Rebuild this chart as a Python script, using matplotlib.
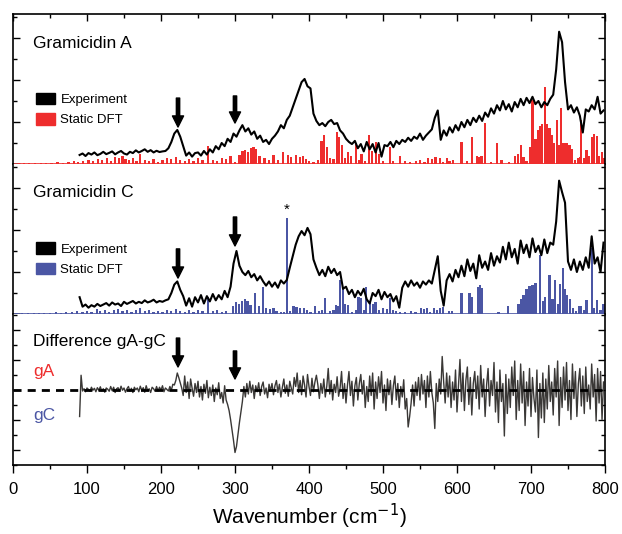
import numpy as np
import matplotlib
matplotlib.use("Agg")
import matplotlib.pyplot as plt
from matplotlib.patches import Patch
from matplotlib.ticker import MultipleLocator

plt.rcParams['font.family'] = ['Liberation Sans', 'DejaVu Sans']

# ---------------- data ----------------
wavenumber = np.arange(90, 800, 4)       # experimental sampling grid (cm^-1)
wavenumber_diff = np.arange(90, 800, 2)  # difference spectrum grid (cm^-1)

exp_gA = [
    0.43, 0.50, 0.38, 0.52, 0.45, 0.55, 0.42, 0.48, 0.58, 0.47,
    0.53, 0.60, 0.46, 0.55, 0.62, 0.50, 0.45, 0.58, 0.52, 0.65,
    0.55, 0.62, 0.70, 0.58, 0.66, 0.55, 0.63, 0.57, 0.60, 0.62,
    0.75, 1.05, 1.45, 1.62, 1.30, 0.85, 0.40, 0.55, 0.35, 0.52,
    0.55, 0.40, 0.62, 0.45, 0.70, 0.55, 0.85, 0.70, 1.00, 0.85,
    1.20, 1.05, 1.45, 1.30, 1.60, 1.85, 1.55, 1.70, 1.40, 1.55,
    1.20, 1.35, 1.05, 1.15, 0.95, 1.20, 1.35, 1.55, 1.85, 1.70,
    2.10, 2.30, 2.70, 3.10, 3.50, 3.90, 4.05, 3.70, 3.60, 2.40,
    2.05, 1.85, 1.95, 1.80, 2.00, 2.10, 1.90, 1.95, 1.60, 1.45,
    1.20, 1.05, 0.95, 1.10, 0.75, 0.95, 0.60, 1.05, 0.70, 0.95,
    0.55, 1.00, 0.35, 0.90, 0.85, 1.05, 0.80, 1.10, 0.95, 1.15,
    1.05, 1.25, 1.10, 1.30, 1.20, 1.45, 1.15, 1.35, 1.50, 1.65,
    2.20, 2.55, 1.15, 1.60, 1.35, 1.75, 1.50, 1.85, 1.60, 2.00,
    1.75, 2.10, 1.85, 2.20, 2.00, 2.30, 2.05, 2.45, 2.25, 2.65,
    2.40, 2.80, 2.55, 3.00, 2.60, 2.85, 2.50, 2.95, 2.70, 3.10,
    2.80, 3.15, 2.90, 3.20, 2.85, 3.00, 2.70, 2.95, 2.80, 3.10,
    3.30, 4.50, 6.30, 5.80, 3.90, 2.60, 2.80, 2.45, 2.70, 2.30,
    1.50, 2.60, 2.50, 2.80, 2.60, 3.20, 2.40, 2.55,
]

exp_gC = [
    0.80, 0.35, 0.45, 0.30, 0.42, 0.35, 0.48, 0.38, 0.45, 0.52,
    0.40, 0.55, 0.45, 0.50, 0.38, 0.58, 0.48, 0.55, 0.62, 0.50,
    0.58, 0.52, 0.65, 0.55, 0.60, 0.68, 0.55, 0.62, 0.58, 0.65,
    0.70, 1.00, 1.40, 1.55, 1.15, 0.85, 0.40, 0.75, 0.35, 0.80,
    0.55, 0.90, 0.50, 0.85, 0.60, 0.95, 0.65, 0.90, 0.70, 1.10,
    0.80, 1.30, 2.40, 3.00, 2.30, 2.00, 1.85, 2.05, 1.75, 1.90,
    1.60, 1.80, 1.55, 1.35, 1.55, 1.30, 1.50, 1.25, 1.60, 1.45,
    1.62, 2.20, 2.75, 3.30, 3.70, 3.95, 3.75, 4.10, 3.80, 2.60,
    2.20, 1.85, 2.10, 1.80, 2.25, 1.95, 2.15, 1.85, 2.00, 1.20,
    1.30, 0.95, 1.15, 0.80, 1.10, 0.90, 1.20, 0.70, 0.50, 1.00,
    0.85, 1.15, 0.70, 1.05, 0.80, 0.95, 0.60, 0.85, 0.30, 1.25,
    1.55, 1.30, 1.60, 1.35, 1.50, 1.25, 1.55, 1.40, 1.60, 1.45,
    2.10, 2.75, 1.10, 0.40, 1.60, 1.90, 1.55, 2.10, 1.75, 2.30,
    1.80, 2.60, 2.05, 2.40, 1.70, 2.80, 2.20, 2.50, 2.10, 2.90,
    2.30, 2.75, 2.45, 3.20, 2.60, 3.40, 2.70, 3.10, 2.40, 3.50,
    2.90, 3.30, 2.70, 3.60, 2.95, 3.25, 2.80, 3.55, 2.90, 3.40,
    3.30, 4.40, 6.35, 5.80, 5.30, 2.50, 2.10, 2.60, 2.00, 2.50,
    2.10, 2.70, 2.20, 3.70, 2.40, 2.70, 2.00, 3.40,
]

diff_gA_gC = [
    -1.80, 0.95, -0.10, 0.05, -0.15, 0.10, 0.00, -0.12, 0.15, -0.05,
    0.08, -0.15, 0.12, -0.05, 0.18, -0.10, 0.05, -0.18, 0.10, 0.02,
    -0.12, 0.20, -0.08, 0.15, -0.20, 0.05, 0.12, -0.10, 0.22, -0.05,
    0.10, -0.18, 0.05, 0.20, -0.12, 0.08, -0.20, 0.15, -0.02, 0.10,
    -0.15, 0.22, -0.05, 0.12, -0.18, 0.25, -0.08, 0.05, -0.20, 0.15,
    0.05, -0.12, 0.20, -0.10, 0.15, -0.05, 0.25, -0.15, 0.10, 0.00,
    -0.10, 0.20, -0.05, 0.35, 0.30, 0.60, 1.10, 0.80, 0.45, 0.10,
    -0.40, 0.90, -0.20, 0.50, -0.60, 0.70, 0.10, -0.45, 0.40, -0.20,
    0.55, -0.50, 0.20, -0.70, 0.35, -0.25, 0.60, -0.55, 0.15, -0.40,
    0.30, -0.80, 0.10, -0.35, 0.45, -0.60, -0.20, -0.90, 0.25, -0.70,
    -1.00, -1.40, -2.00, -2.70, -3.40, -4.20, -3.80, -3.00, -2.20, -1.50,
    -0.80, 0.20, -0.50, 0.40, -0.30, 0.55, -0.20, 0.30, -0.60, 0.25,
    -0.15, 0.45, -0.40, 0.20, 0.50, -0.30, 0.10, -0.55, 0.35, -0.10,
    0.40, -0.35, 0.25, 0.60, -0.20, 0.35, -0.50, 0.15, 0.70, -0.25,
    0.30, -0.45, 0.55, 0.10, -0.30, 0.80, 0.20, 1.10, -0.20, 0.60,
    -0.35, 0.90, 0.30, -0.50, 1.00, 0.20, -0.40, 0.75, -0.15, 0.50,
    0.95, 0.30, -0.60, 0.40, -0.25, 0.70, -0.50, 0.20, 1.40, -0.30,
    0.60, -0.70, 0.35, -0.20, 0.85, -0.45, 0.10, 1.20, -0.60, 0.40,
    -0.90, 0.30, 1.20, -0.40, 0.55, -1.10, 0.25, 0.80, -0.70, 0.40,
    1.00, -0.30, 0.60, -1.20, 0.20, -0.80, 0.90, -0.40, 1.10, -1.30,
    0.50, -0.60, 0.85, -0.20, 1.20, -0.90, 0.30, -1.40, 0.70, -0.35,
    0.60, -1.00, 0.25, 0.90, -0.70, 0.40, -1.20, 0.20, -0.50, 0.65,
    -1.30, -0.60, -2.50, -1.80, -0.90, 0.30, -1.10, 0.50, -0.40, 0.80,
    -0.70, 1.00, -0.30, 0.60, -1.20, 0.90, -0.50, 1.20, -0.20, -0.90,
    -2.60, 0.40, -0.80, 0.70, -0.30, 2.20, 0.50, -0.90, 1.10, -0.50,
    0.90, -1.20, 0.50, -0.70, 1.30, -1.50, 0.30, 2.00, -0.80, 1.10,
    -1.40, 0.60, 1.50, -1.00, 0.80, -1.70, 0.40, 1.20, -0.60, 0.90,
    -1.30, 1.60, -0.50, 0.70, -1.80, 0.30, 1.40, -1.10, 0.60, -0.40,
    1.80, -1.50, 0.50, -2.20, 1.30, -0.80, 0.40, -3.10, 1.00, -1.60,
    0.70, -1.20, 1.50, -0.40, 1.90, -2.00, 0.60, -1.40, 1.70, -0.90,
    1.20, -2.40, 0.50, -1.10, 1.40, -1.80, 0.80, -0.60, -1.50, 1.30,
    -3.20, 0.40, -1.90, 1.10, -2.20, 0.70, -1.30, 1.60, -0.80, 0.50,
    -1.70, 1.40, -0.50, 1.90, -2.40, 0.80, -1.20, 1.50, -0.70, 1.80,
    -1.40, 0.60, -2.00, 1.70, -0.60, 1.20, -1.80, 0.40, 1.40, -1.10,
    0.90, -1.60, 1.50, -0.80, 0.30, -1.30, 1.70, -0.50, 1.00, -2.10,
    1.40, -0.90, 1.20, -2.00, 0.50,
]

dft_gA_pos = [8, 15, 22, 30, 38, 45, 52, 60, 68, 75, 82, 88,
              95, 102, 108, 115, 120, 127, 132, 138, 143, 148, 152, 157, 162, 167,
              172, 178, 184, 190, 196, 202, 208, 214, 220, 226, 232, 238, 244, 250,
              256, 264, 270, 276, 282, 288, 294, 300, 306, 310, 313, 318, 322, 325,
              328, 333, 340, 346, 352, 358, 365, 372, 376, 382, 388, 392, 396, 400,
              406, 412, 417, 420, 424, 428, 433, 438, 441, 445, 449, 453, 457, 464,
              468, 471, 476, 481, 485, 491, 495, 500, 509, 514, 523, 530, 537, 545,
              550, 556, 561, 566, 571, 577, 581, 586, 590, 595, 606, 613, 620, 627,
              630, 633, 638, 646, 654, 660, 670, 678, 682, 686, 690, 694, 699, 702,
              706, 709, 712, 715, 719, 722, 725, 728, 731, 735, 738, 741, 744, 748,
              752, 755, 759, 763, 766, 768, 772, 775, 778, 782, 785, 789, 792, 796, 799]
dft_gA_int = [0.05, 0.04, 0.06, 0.05, 0.07, 0.05, 0.06, 0.08, 0.06, 0.10, 0.12, 0.10,
              0.15, 0.20, 0.12, 0.25, 0.18, 0.30, 0.15, 0.35, 0.30, 0.40, 0.25, 0.20, 0.30, 0.15,
              0.50, 0.20, 0.15, 0.25, 0.10, 0.20, 0.30, 0.25, 0.35, 0.20, 0.15, 0.25, 0.15, 0.30,
              0.20, 0.87, 0.20, 0.15, 0.30, 0.25, 0.40, 0.10, 0.45, 0.60, 0.65, 0.55, 0.75, 0.80,
              0.70, 0.40, 0.30, 0.20, 0.45, 0.20, 0.55, 0.45, 0.35, 0.45, 0.35, 0.40, 0.25, 0.15,
              0.10, 0.20, 1.10, 1.38, 0.80, 0.30, 0.25, 1.54, 1.30, 0.90, 0.30, 0.55, 0.40, 0.98,
              0.20, 0.50, 0.15, 1.38, 0.60, 1.05, 0.50, 0.15, 0.83, 0.15, 0.40, 0.12, 0.10, 0.15,
              0.20, 0.10, 0.30, 0.25, 0.35, 0.30, 0.10, 0.27, 0.15, 0.20, 1.05, 0.15, 1.30, 0.40,
              0.35, 0.40, 1.94, 0.10, 0.98, 0.20, 0.10, 0.40, 0.50, 0.90, 0.35, 0.15, 0.83, 3.05,
              1.20, 1.60, 1.80, 1.90, 3.68, 1.90, 1.70, 1.40, 1.00, 2.10, 0.90, 2.65, 1.00, 0.98,
              0.90, 0.70, 0.20, 0.30, 0.35, 2.10, 0.30, 0.67, 0.40, 1.30, 1.45, 1.35, 0.40, 0.55, 0.30]

dft_gC_pos = [5, 12, 20, 28, 35, 42, 50, 58, 65, 72, 80, 86,
              94, 100, 106, 113, 118, 124, 130, 136, 142, 148, 154, 160, 166, 172,
              178, 184, 190, 196, 202, 208, 214, 220, 226, 232, 238, 244, 250, 256,
              264, 270, 276, 282, 288, 297, 301, 305, 309, 313, 317, 321, 327, 332,
              338, 342, 347, 352, 356, 362, 366, 370, 374, 379, 383, 388, 393, 397,
              402, 408, 413, 418, 422, 428, 433, 436, 439, 442, 446, 449, 453, 458,
              463, 467, 470, 474, 477, 482, 486, 490, 495, 500, 505, 509, 513, 518,
              523, 530, 538, 544, 551, 555, 559, 564, 569, 573, 577, 581, 589, 593,
              606, 617, 620, 628, 631, 634, 656, 669, 683, 686, 690, 694, 698, 702,
              706, 712, 716, 719, 725, 729, 732, 736, 739, 743, 746, 749, 753, 757,
              761, 765, 768, 772, 775, 782, 785, 789, 794, 798]
dft_gC_int = [0.05, 0.06, 0.04, 0.07, 0.05, 0.06, 0.05, 0.08, 0.06, 0.10, 0.08, 0.12,
              0.10, 0.15, 0.08, 0.24, 0.12, 0.20, 0.10, 0.18, 0.25, 0.15, 0.20, 0.10, 0.18, 0.27,
              0.12, 0.20, 0.10, 0.15, 0.08, 0.20, 0.15, 0.25, 0.12, 0.10, 0.18, 0.10, 0.20, 0.15,
              0.83, 0.12, 0.20, 0.10, 0.15, 0.40, 0.55, 0.50, 0.60, 0.70, 0.60, 0.45, 0.98, 0.40,
              1.30, 0.30, 0.25, 0.30, 0.15, 0.10, 0.10, 4.56, 0.15, 0.40, 0.35, 0.30, 0.30, 0.20,
              0.10, 0.38, 0.15, 0.20, 0.75, 0.15, 0.20, 0.44, 0.40, 1.62, 1.20, 0.50, 0.45, 0.10,
              0.20, 0.80, 0.75, 0.20, 1.30, 0.60, 0.50, 0.55, 0.20, 0.30, 0.25, 0.75, 0.20, 0.15,
              0.10, 0.10, 0.15, 0.10, 0.30, 0.25, 0.30, 0.10, 0.30, 0.20, 0.30, 0.35, 0.15, 0.12,
              0.98, 0.98, 0.80, 1.30, 1.40, 1.25, 0.10, 0.38, 0.50, 0.70, 0.90, 1.20, 1.35, 1.40,
              1.50, 2.81, 0.60, 0.80, 1.86, 0.70, 1.62, 0.50, 1.45, 2.17, 1.20, 0.90, 0.70, 0.30,
              0.15, 0.40, 0.40, 0.20, 0.65, 3.13, 0.30, 0.65, 0.20, 0.50]

arrow_x = [223, 300]
labels_series = ["Experiment", "Static DFT"]
xticks = [0, 100, 200, 300, 400, 500, 600, 700, 800]

RED = '#ee2d2d'
BLUE = '#4b56a4'
DIFF = '#3a3836'

# ---------------- figure ----------------
fig = plt.figure(figsize=(6.22, 5.34), dpi=100)
L, W = 13/622, 592/622
ax1 = fig.add_axes([L, 1-164/534, W, 150/534])
ax2 = fig.add_axes([L, 1-314/534, W, 150/534])
ax3 = fig.add_axes([L, 1-465/534, W, 151/534])

for ax in (ax1, ax2, ax3):
    ax.set_xlim(0, 800)
    for s in ax.spines.values():
        s.set_linewidth(1.2)
    ax.tick_params(axis='y', which='both', direction='in', left=True, right=True,
                   labelleft=False, width=1.0)
    ax.tick_params(axis='y', which='major', length=5)
    ax.tick_params(axis='y', which='minor', length=3)
    ax.xaxis.set_major_locator(MultipleLocator(100))
    ax.xaxis.set_minor_locator(MultipleLocator(50))

for ax in (ax1, ax2):
    ax.set_ylim(0, 150/21)
    ax.yaxis.set_major_locator(MultipleLocator(2))
    ax.yaxis.set_minor_locator(MultipleLocator(1))

ax3.set_ylim(-151/30, 151/30)
ax3.yaxis.set_major_locator(MultipleLocator(2))
ax3.yaxis.set_minor_locator(MultipleLocator(1))

# spines between stacked panels hidden
ax1.spines['bottom'].set_visible(False)
ax2.spines['top'].set_visible(False)
ax2.spines['bottom'].set_visible(False)
ax3.spines['top'].set_visible(False)

ax1.tick_params(axis='x', which='both', direction='in', top=True, bottom=False,
                labelbottom=False, width=1.0)
ax1.tick_params(axis='x', which='major', length=5)
ax1.tick_params(axis='x', which='minor', length=3)
ax2.tick_params(axis='x', which='both', top=False, bottom=False, labelbottom=False)
ax3.tick_params(axis='x', which='both', direction='out', top=False, bottom=True,
                width=1.0, labelsize=12, pad=6)
ax3.tick_params(axis='x', which='major', length=6)
ax3.tick_params(axis='x', which='minor', length=3)
ax3.set_xticks(xticks)

# panel 1: Gramicidin A
ax1.axhline(0, color=RED, lw=1.2, zorder=1)
ax1.bar(dft_gA_pos, dft_gA_int, width=3, color=RED, linewidth=0, zorder=2)
ax1.plot(wavenumber, exp_gA, color='black', lw=1.5, zorder=3)
ax1.text(0.034, 0.80, "Gramicidin A", transform=ax1.transAxes, fontsize=12.5,
         va='center', ha='left')
ax1.legend(handles=[Patch(color='black'), Patch(color=RED)], labels=labels_series,
           loc='upper left', bbox_to_anchor=(0.039, 0.475), frameon=False,
           fontsize=9.5, handlelength=1.45, handleheight=0.95, handletextpad=0.4,
           labelspacing=0.55, borderpad=0, borderaxespad=0)

# panel 2: Gramicidin C
ax2.axhline(0, color=BLUE, lw=1.2, zorder=1)
ax2.bar(dft_gC_pos, dft_gC_int, width=3, color=BLUE, linewidth=0, zorder=2)
ax2.plot(wavenumber, exp_gC, color='black', lw=1.5, zorder=3)
ax2.text(0.034, 0.807, "Gramicidin C", transform=ax2.transAxes, fontsize=12.5,
         va='center', ha='left')
ax2.legend(handles=[Patch(color='black'), Patch(color=BLUE)], labels=labels_series,
           loc='upper left', bbox_to_anchor=(0.039, 0.478), frameon=False,
           fontsize=9.5, handlelength=1.45, handleheight=0.95, handletextpad=0.4,
           labelspacing=0.55, borderpad=0, borderaxespad=0)
star_i = dft_gC_int.index(max(dft_gC_int))
ax2.annotate("*", xy=(dft_gC_pos[star_i], dft_gC_int[star_i]), xytext=(0, 1),
             textcoords='offset points', ha='center', va='bottom', fontsize=11)

# panel 3: difference
ax3.plot(wavenumber_diff, diff_gA_gC, color=DIFF, lw=1.0, zorder=2)
ax3.axhline(0, color='black', lw=2.0, dashes=(2.9, 2.2), zorder=3)
ax3.text(0.034, 0.821, "Difference gA-gC", transform=ax3.transAxes, fontsize=12.5,
         va='center', ha='left')
ax3.text(0.034, 0.616, "gA", transform=ax3.transAxes, fontsize=12.5, color=RED,
         va='center', ha='left')
ax3.text(0.034, 0.325, "gC", transform=ax3.transAxes, fontsize=12.5, color=BLUE,
         va='center', ha='left')
ax3.set_xlabel("Wavenumber (cm$^{-1}$)", fontsize=15, labelpad=4)

# arrows
aprops = dict(facecolor='black', edgecolor='black', width=2.4, headwidth=8,
              headlength=8, shrink=0)
arrow_spans = {
    ax1: [(3.14, 1.76), (3.24, 1.95)],
    ax2: [(3.10, 1.71), (4.62, 3.24)],
    ax3: [(3.43, 1.50), (2.57, 0.70)],
}
for ax, spans in arrow_spans.items():
    for xa, (y0, y1) in zip(arrow_x, spans):
        ax.annotate("", xy=(xa, y1), xytext=(xa, y0), arrowprops=aprops, zorder=5)

fig.savefig("out.png", dpi=100)
